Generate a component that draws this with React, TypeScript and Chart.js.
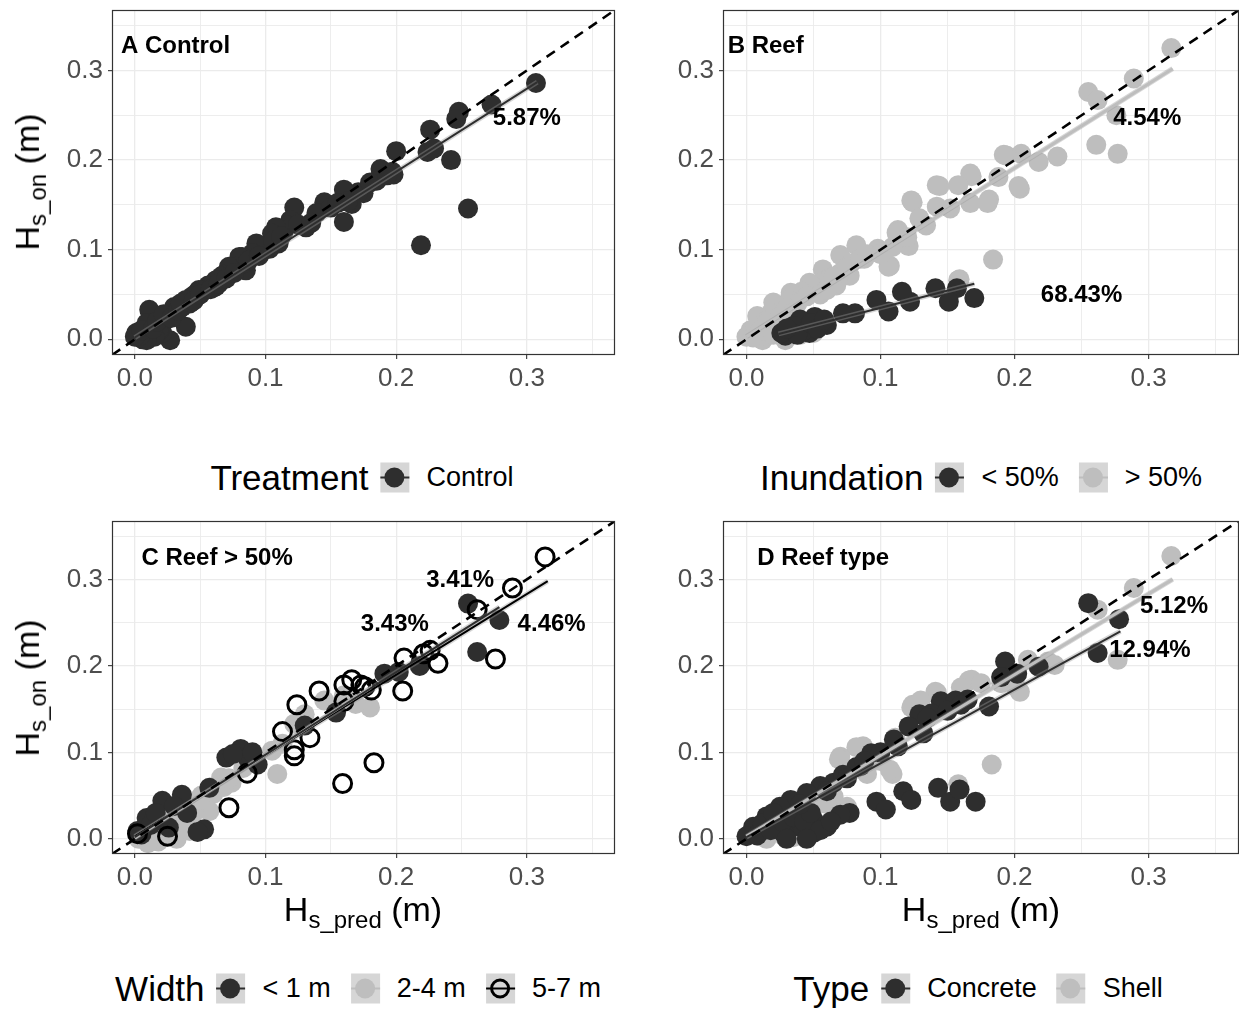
import React, { useEffect, useRef } from "react";
import { Chart, registerables } from "chart.js";

Chart.register(...registerables);

const FONT = '"Liberation Sans", Arial, Helvetica, sans-serif';
const DARK = "#2e2e2e";
const LIGHT = "#bebebe";
const BLACK = "#000000";
const BAND = "rgba(153,153,153,0.4)";
const KEY_BG = "#d6d6d6";

// axis limits and tick values (both axes)
const AXIS_MIN = -0.0175;
const AXIS_MAX = 0.3675;
const TICKS = [0, 0.05, 0.1, 0.15, 0.2, 0.25, 0.3, 0.35];

// ---------- Panel A: Control ----------
const controlX = [0.307, 0.273, 0.248, 0.246, 0.226, 0.224, 0.229, 0.242, 0.255, 0.219, 0.2, 0.197, 0.188, 0.185, 0.198, 0.175, 0.171, 0.166, 0.16, 0.16, 0.163, 0.145, 0.139, 0.131, 0.122, 0.119, 0.114, 0.117, 0.11, 0.108, 0.105, 0.103, 0.1, 0.098, 0.093, 0.09, 0.085, 0.084, 0.082, 0.08, 0.078, 0.072, 0.072, 0.068, 0.066, 0.062, 0.062, 0.056, 0.054, 0.049, 0.047, 0.044, 0.042, 0.039, 0.039, 0.036, 0.03, 0.03, 0.027, 0.024, 0.021, 0.019, 0.018, 0.015, 0.012, 0.011, 0.009, 0.009, 0.006, 0.004, 0.002, 0.001, 0.0, 0.005, 0.014, 0.017, 0.022, 0.028, 0.033, 0.035, 0.045, 0.05, 0.058, 0.064, 0.07, 0.076, 0.087, 0.095, 0.106, 0.112, 0.125, 0.135, 0.15, 0.155, 0.18, 0.193];
const controlY = [0.286, 0.262, 0.254, 0.246, 0.234, 0.209, 0.213, 0.2, 0.146, 0.105, 0.21, 0.187, 0.19, 0.177, 0.184, 0.163, 0.164, 0.151, 0.167, 0.131, 0.154, 0.153, 0.141, 0.125, 0.147, 0.133, 0.121, 0.127, 0.107, 0.125, 0.118, 0.101, 0.104, 0.099, 0.107, 0.096, 0.077, 0.085, 0.092, 0.092, 0.081, 0.077, 0.081, 0.072, 0.07, 0.059, 0.066, 0.06, 0.055, 0.055, 0.051, 0.048, 0.04, 0.044, 0.014, 0.036, 0.036, 0.029, -0.001, 0.022, 0.007, 0.01, 0.01, 0.003, 0.029, 0.033, 0.018, -0.001, 0.0, 0.004, 0.007, 0.007, 0.003, 0.01, 0.012, 0.02, 0.028, 0.024, 0.032, 0.04, 0.043, 0.05, 0.056, 0.062, 0.068, 0.074, 0.088, 0.093, 0.11, 0.115, 0.128, 0.13, 0.147, 0.152, 0.175, 0.183];
const controlFitX = [0.0, 0.308];
const controlFitY = [0.002, 0.287];

// ---------- Panel B: Reef by inundation ----------
const inundLowX = [0.17, 0.157, 0.151, 0.141, 0.122, 0.116, 0.106, 0.097, 0.081, 0.072, 0.06, 0.055, 0.051, 0.047, 0.044, 0.043, 0.04, 0.037, 0.033, 0.032, 0.029, 0.026, 0.035, 0.038, 0.048, 0.053, 0.058, 0.03];
const inundLowY = [0.046, 0.057, 0.042, 0.057, 0.042, 0.053, 0.031, 0.044, 0.029, 0.029, 0.016, 0.02, 0.025, 0.007, 0.016, 0.01, 0.022, 0.012, 0.01, 0.007, 0.004, 0.007, 0.015, 0.005, 0.018, 0.012, 0.022, 0.012];
const inundHighX = [0.317, 0.289, 0.255, 0.262, 0.276, 0.261, 0.277, 0.232, 0.218, 0.205, 0.194, 0.192, 0.188, 0.204, 0.203, 0.181, 0.18, 0.168, 0.167, 0.167, 0.158, 0.144, 0.142, 0.152, 0.142, 0.124, 0.123, 0.134, 0.129, 0.113, 0.112, 0.121, 0.12, 0.109, 0.107, 0.098, 0.106, 0.082, 0.077, 0.07, 0.078, 0.07, 0.067, 0.057, 0.059, 0.05, 0.047, 0.041, 0.033, 0.032, 0.023, 0.02, 0.018, 0.009, 0.008, 0.003, 0.0, 0.012, 0.015, 0.029, 0.03, 0.05, 0.023, 0.184, 0.159, 0.158, 0.014, 0.038, 0.062, 0.088, 0.005, 0.01, 0.015, 0.025, 0.03, 0.035, 0.045, 0.055, 0.06, 0.065, 0.075, 0.085, 0.09, 0.1, 0.04, 0.02];
const inundHighY = [0.325, 0.291, 0.276, 0.267, 0.25, 0.217, 0.207, 0.204, 0.198, 0.207, 0.205, 0.206, 0.181, 0.168, 0.171, 0.156, 0.152, 0.182, 0.152, 0.185, 0.172, 0.171, 0.172, 0.146, 0.148, 0.153, 0.155, 0.127, 0.135, 0.122, 0.119, 0.104, 0.114, 0.103, 0.082, 0.101, 0.081, 0.105, 0.071, 0.094, 0.085, 0.074, 0.06, 0.078, 0.066, 0.059, 0.063, 0.053, 0.052, 0.044, 0.035, 0.041, 0.029, 0.018, 0.026, 0.01, 0.003, -0.001, 0.004, -0.001, 0.004, 0.007, 0.014, 0.089, 0.067, 0.066, 0.02, 0.04, 0.068, 0.09, 0.002, 0.01, 0.018, 0.025, 0.035, 0.03, 0.048, 0.05, 0.055, 0.07, 0.08, 0.09, 0.095, 0.095, 0.005, 0.005];
const inundLowFitX = [0.024, 0.17];
const inundLowFitY = [0.006, 0.062];
const inundHighFitX = [0.0, 0.318];
const inundHighFitY = [0.003, 0.302];

// ---------- Panel C: Reef > 50% by width ----------
const widthSmallX = [0.255, 0.279, 0.262, 0.218, 0.202, 0.191, 0.13, 0.154, 0.081, 0.07, 0.086, 0.094, 0.075, 0.09, 0.053, 0.048, 0.026, 0.021, 0.009, 0.002, 0.036, 0.057, 0.005, 0.012, 0.016, 0.03, 0.04];
const widthSmallY = [0.272, 0.253, 0.216, 0.2, 0.193, 0.191, 0.131, 0.146, 0.104, 0.094, 0.094, 0.086, 0.098, 0.1, 0.011, 0.008, 0.013, 0.044, 0.024, 0.009, 0.051, 0.059, 0.005, 0.016, 0.03, 0.038, 0.03];
const widthMidX = [0.18, 0.169, 0.16, 0.145, 0.13, 0.122, 0.113, 0.109, 0.105, 0.074, 0.06, 0.066, 0.048, 0.039, 0.03, 0.021, 0.012, 0.003, 0.018, 0.032, 0.042, 0.057, 0.008, 0.015, 0.026, 0.051, 0.068, 0.083, 0.02, 0.035, 0.045, 0.05, 0.025, 0.01, 0.06, 0.072];
const widthMidY = [0.152, 0.156, 0.166, 0.16, 0.144, 0.133, 0.11, 0.075, 0.102, 0.065, 0.052, 0.071, 0.04, 0.044, 0.032, 0.021, 0.009, 0.0, -0.003, 0.0, 0.009, 0.032, 0.004, 0.012, 0.026, 0.05, 0.06, 0.082, 0.01, 0.02, 0.03, 0.045, 0.005, -0.005, 0.06, 0.07];
const widthLargeX = [0.314, 0.289, 0.262, 0.276, 0.232, 0.221, 0.226, 0.206, 0.205, 0.183, 0.159, 0.181, 0.176, 0.173, 0.166, 0.16, 0.16, 0.141, 0.124, 0.134, 0.113, 0.122, 0.122, 0.072, 0.086, 0.025, 0.002];
const widthLargeY = [0.326, 0.29, 0.265, 0.208, 0.203, 0.214, 0.218, 0.209, 0.171, 0.088, 0.064, 0.172, 0.176, 0.178, 0.184, 0.178, 0.159, 0.171, 0.155, 0.117, 0.124, 0.103, 0.096, 0.036, 0.076, 0.003, 0.006];
const widthSmallFitX = [0.0, 0.279];
const widthSmallFitY = [0.002, 0.268];
const widthMidFitX = [0.0, 0.181];
const widthMidFitY = [0.001, 0.175];
const widthLargeFitX = [0.0, 0.316];
const widthLargeFitY = [0.003, 0.298];

// ---------- Panel D: Reef type ----------
const concreteX = [0.255, 0.278, 0.262, 0.218, 0.193, 0.19, 0.202, 0.181, 0.165, 0.145, 0.129, 0.121, 0.132, 0.113, 0.093, 0.085, 0.082, 0.065, 0.055, 0.045, 0.033, 0.025, 0.015, 0.005, 0.0, 0.033, 0.022, 0.05, 0.06, 0.05, 0.04, 0.077, 0.097, 0.104, 0.117, 0.123, 0.143, 0.152, 0.159, 0.171, 0.07, 0.01, 0.028, 0.138, 0.156, 0.072, 0.038, 0.008, 0.012, 0.018, 0.027, 0.035, 0.043, 0.048, 0.055, 0.063, 0.03, 0.045, 0.02, 0.04, 0.06, 0.075, 0.088, 0.1, 0.11, 0.135, 0.15, 0.16];
const concreteY = [0.2725, 0.254, 0.215, 0.199, 0.205, 0.187, 0.191, 0.153, 0.161, 0.159, 0.144, 0.13, 0.122, 0.107, 0.099, 0.084, 0.083, 0.065, 0.061, 0.053, 0.045, 0.037, 0.026, 0.014, 0.003, 0.014, 0.022, 0.022, 0.014, 0.007, 0.014, 0.03, 0.043, 0.034, 0.055, 0.045, 0.059, 0.043, 0.057, 0.043, 0.028, 0.008, 0.006, 0.145, 0.16, 0.074, 0.03, 0.004, 0.018, 0.01, 0.02, 0.025, 0.02, 0.03, 0.01, 0.02, 0.0, 0.0, 0.03, 0.04, 0.055, 0.07, 0.09, 0.1, 0.115, 0.14, 0.148, 0.155];
const shellX = [0.317, 0.289, 0.262, 0.277, 0.23, 0.225, 0.21, 0.201, 0.204, 0.183, 0.158, 0.168, 0.166, 0.142, 0.141, 0.124, 0.123, 0.111, 0.109, 0.107, 0.1, 0.087, 0.082, 0.07, 0.069, 0.065, 0.075, 0.04, 0.028, 0.02, 0.01, 0.005, 0.015, 0.035, 0.05, 0.06, 0.09, 0.095, 0.13, 0.16, 0.175, 0.19];
const shellY = [0.327, 0.29, 0.265, 0.207, 0.201, 0.205, 0.207, 0.176, 0.17, 0.086, 0.063, 0.184, 0.183, 0.169, 0.17, 0.155, 0.152, 0.117, 0.075, 0.08, 0.09, 0.107, 0.106, 0.095, 0.092, 0.049, 0.037, 0.045, 0.003, 0.022, 0.003, 0.008, 0.0, 0.002, 0.035, 0.04, 0.075, 0.09, 0.16, 0.175, 0.18, 0.18];
const concreteFitX = [0.0, 0.279];
const concreteFitY = [0.002, 0.24];
const shellFitX = [0.0, 0.318];
const shellFitY = [0.003, 0.3];

// ---------- text labels ----------
const panelTitles = ["A Control", "B Reef", "C Reef > 50%", "D Reef type"];
const percentA = ["5.87%"];
const percentB = ["4.54%", "68.43%"];
const percentC = ["3.41%", "3.43%", "4.46%"];
const percentD = ["5.12%", "12.94%"];

type Series = { xs: number[]; ys: number[]; color: string; open?: boolean };
type Fit = { xs: number[]; ys: number[]; color: string; width?: number };
type Note = { text: string; x: number; y: number; align: CanvasTextAlign; size: number };

const zip = (xs: number[], ys: number[]) => xs.map((x, i) => ({ x, y: ys[i] }));
const isMajor = (v: any) => {
  const n = Number(v);
  return Math.abs(n * 10 - Math.round(n * 10)) < 1e-6;
};

const overlayPlugin = {
  id: "overlay",
  afterDatasetsDraw(chart: any, _args: any, opts: any) {
    const { ctx, chartArea: a, scales } = chart;
    ctx.save();
    ctx.fillStyle = "#000";
    ctx.textBaseline = "middle";
    for (const n of opts.notes as Note[]) {
      ctx.font = `bold ${n.size}px ${FONT}`;
      ctx.textAlign = n.align;
      ctx.fillText(n.text, scales.x.getPixelForValue(n.x), scales.y.getPixelForValue(n.y));
    }
    ctx.strokeStyle = "#333333";
    ctx.lineWidth = 1.2;
    ctx.strokeRect(a.left + 0.5, a.top + 0.5, a.right - a.left - 1, a.bottom - a.top - 1);
    ctx.restore();
  },
};

function axisCfg(isX: boolean, size: number) {
  return {
    type: "linear",
    min: AXIS_MIN,
    max: AXIS_MAX,
    afterBuildTicks: (s: any) => {
      s.ticks = TICKS.map((v) => ({ value: v }));
    },
    afterFit: (s: any) => {
      if (isX) s.height = size;
      else s.width = size;
      s.paddingTop = 0;
      s.paddingBottom = 0;
      s.paddingLeft = 0;
      s.paddingRight = 0;
    },
    ticks: {
      autoSkip: false,
      maxRotation: 0,
      minRotation: 0,
      padding: isX ? 4 : 5,
      color: "#4d4d4d",
      font: { family: FONT, size: 26 },
      callback: (v: any) => (isMajor(v) ? Number(v).toFixed(1) : ""),
    },
    grid: {
      color: "#ebebeb",
      lineWidth: (c: any) => (c.tick && isMajor(c.tick.value) ? 1.3 : 0.9),
      tickColor: (c: any) => (c.tick && isMajor(c.tick.value) ? "#333333" : "rgba(0,0,0,0)"),
      tickWidth: 1.1,
      tickLength: 4,
      drawTicks: true,
    },
    border: { display: false },
  };
}

function Panel(props: {
  left: number; top: number; width: number; height: number;
  padTop: number; padRight: number; yAxisWidth: number; xAxisHeight: number;
  series: Series[]; fits: Fit[]; notes: Note[];
}) {
  const ref = useRef<HTMLCanvasElement | null>(null);
  useEffect(() => {
    if (!ref.current) return;
    const datasets: any[] = [];
    datasets.push({
      data: [{ x: AXIS_MIN, y: AXIS_MIN }, { x: AXIS_MAX, y: AXIS_MAX }],
      showLine: true, borderColor: BLACK, borderWidth: 2.6, borderDash: [10, 7],
      pointRadius: 0, order: 0,
    });
    props.fits.forEach((f) => {
      datasets.push({
        data: zip(f.xs, f.ys), showLine: true, borderColor: f.color, borderWidth: f.width ?? 2,
        pointRadius: 0, order: 1,
      });
      datasets.push({
        data: zip(f.xs, f.ys), showLine: true, borderColor: BAND, borderWidth: 5,
        borderCapStyle: "butt", pointRadius: 0, order: 2,
      });
    });
    props.series.forEach((s, i) => {
      datasets.push({
        data: zip(s.xs, s.ys),
        pointRadius: s.open ? 9 : 10,
        pointBackgroundColor: s.open ? "rgba(0,0,0,0)" : s.color,
        pointBorderColor: s.color,
        pointBorderWidth: s.open ? 3 : 0,
        showLine: false,
        order: 3 + i,
      });
    });
    const chart = new Chart(ref.current, {
      type: "scatter",
      data: { datasets },
      options: {
        animation: false,
        responsive: false,
        maintainAspectRatio: false,
        events: [],
        layout: { autoPadding: false, padding: { top: props.padTop, right: props.padRight, left: 0, bottom: 0 } },
        plugins: {
          legend: { display: false },
          tooltip: { enabled: false },
          overlay: { notes: props.notes },
        } as any,
        scales: {
          x: axisCfg(true, props.xAxisHeight) as any,
          y: axisCfg(false, props.yAxisWidth) as any,
        },
      },
      plugins: [overlayPlugin as any],
    });
    return () => chart.destroy();
  }, []);
  return (
    <canvas
      ref={ref}
      width={props.width}
      height={props.height}
      style={{ position: "absolute", left: props.left, top: props.top, width: props.width, height: props.height }}
    />
  );
}

function Key({ color, open }: { color: string; open?: boolean }) {
  return (
    <span style={{ position: "relative", display: "inline-block", width: 29, height: 30, background: KEY_BG, flex: "0 0 auto" }}>
      <span style={{ position: "absolute", left: 0, right: 0, top: 14, height: 2, background: open ? BLACK : color }} />
      <span
        style={{
          position: "absolute", left: 4, top: 5, width: 20, height: 20, borderRadius: "50%",
          boxSizing: "border-box",
          background: open ? "transparent" : color,
          border: open ? `3px solid ${BLACK}` : "none",
        }}
      />
    </span>
  );
}

function Legend({ cx, cy, title, items }: { cx: number; cy: number; title: string; items: { label: string; color: string; open?: boolean }[] }) {
  return (
    <div
      style={{
        position: "absolute", left: cx, top: cy, transform: "translate(-50%,-50%)",
        display: "flex", alignItems: "center", whiteSpace: "nowrap", fontFamily: FONT, color: "#000",
      }}
    >
      <span style={{ fontSize: 35, marginRight: 12, lineHeight: 1 }}>{title}</span>
      {items.map((it, i) => (
        <React.Fragment key={i}>
          <Key color={it.color} open={it.open} />
          <span style={{ fontSize: 27, marginLeft: 17, marginRight: i < items.length - 1 ? 20 : 0, lineHeight: 1 }}>{it.label}</span>
        </React.Fragment>
      ))}
    </div>
  );
}

function YTitle({ cx, cy, sub }: { cx: number; cy: number; sub: string }) {
  return (
    <div
      style={{
        position: "absolute", left: cx, top: cy, transform: "translate(-50%,-50%) rotate(-90deg)",
        fontSize: 34, fontFamily: FONT, whiteSpace: "nowrap", lineHeight: 1, color: "#000",
      }}
    >
      H<span style={{ fontSize: 24, verticalAlign: "-0.3em" }}>{sub}</span> (m)
    </div>
  );
}

function XTitle({ cx, cy, sub }: { cx: number; cy: number; sub: string }) {
  return (
    <div
      style={{
        position: "absolute", left: cx, top: cy, transform: "translate(-50%,-50%)",
        fontSize: 34, fontFamily: FONT, whiteSpace: "nowrap", lineHeight: 1, color: "#000",
      }}
    >
      H<span style={{ fontSize: 24, verticalAlign: "-0.3em" }}>{sub}</span> (m)
    </div>
  );
}

export default function App() {
  return (
    <div style={{ position: "absolute", left: 0, top: 0, width: 1239, height: 1011, background: "#fff", overflow: "hidden" }}>
      <Panel
        left={0} top={0} width={620} height={400} padTop={10} padRight={5} yAxisWidth={112} xAxisHeight={45}
        series={[{ xs: controlX, ys: controlY, color: DARK }]}
        fits={[{ xs: controlFitX, ys: controlFitY, color: DARK }]}
        notes={[
          { text: panelTitles[0], x: -0.0107, y: 0.327, align: "left", size: 24 },
          { text: percentA[0], x: 0.3, y: 0.247, align: "center", size: 24 },
        ]}
      />
      <Panel
        left={620} top={0} width={619} height={400} padTop={10} padRight={0} yAxisWidth={103} xAxisHeight={45}
        series={[
          { xs: inundLowX, ys: inundLowY, color: DARK },
          { xs: inundHighX, ys: inundHighY, color: LIGHT },
        ]}
        fits={[
          { xs: inundLowFitX, ys: inundLowFitY, color: DARK },
          { xs: inundHighFitX, ys: inundHighFitY, color: LIGHT, width: 3 },
        ]}
        notes={[
          { text: panelTitles[1], x: -0.014, y: 0.327, align: "left", size: 24 },
          { text: percentB[0], x: 0.299, y: 0.247, align: "center", size: 24 },
          { text: percentB[1], x: 0.25, y: 0.049, align: "center", size: 24 },
        ]}
      />
      <Panel
        left={0} top={510} width={620} height={400} padTop={11} padRight={5} yAxisWidth={112} xAxisHeight={56}
        series={[
          { xs: widthLargeX, ys: widthLargeY, color: BLACK, open: true },
          { xs: widthSmallX, ys: widthSmallY, color: DARK },
          { xs: widthMidX, ys: widthMidY, color: LIGHT },
        ]}
        fits={[
          { xs: widthSmallFitX, ys: widthSmallFitY, color: DARK },
          { xs: widthMidFitX, ys: widthMidFitY, color: LIGHT, width: 3 },
          { xs: widthLargeFitX, ys: widthLargeFitY, color: BLACK },
        ]}
        notes={[
          { text: panelTitles[2], x: 0.005, y: 0.324, align: "left", size: 24 },
          { text: percentC[0], x: 0.249, y: 0.299, align: "center", size: 24 },
          { text: percentC[1], x: 0.199, y: 0.248, align: "center", size: 24 },
          { text: percentC[2], x: 0.319, y: 0.248, align: "center", size: 24 },
        ]}
      />
      <Panel
        left={620} top={510} width={619} height={400} padTop={11} padRight={0} yAxisWidth={103} xAxisHeight={56}
        series={[
          { xs: concreteX, ys: concreteY, color: DARK },
          { xs: shellX, ys: shellY, color: LIGHT },
        ]}
        fits={[
          { xs: concreteFitX, ys: concreteFitY, color: DARK },
          { xs: shellFitX, ys: shellFitY, color: LIGHT, width: 3 },
        ]}
        notes={[
          { text: panelTitles[3], x: 0.008, y: 0.324, align: "left", size: 24 },
          { text: percentD[0], x: 0.319, y: 0.269, align: "center", size: 24 },
          { text: percentD[1], x: 0.301, y: 0.218, align: "center", size: 24 },
        ]}
      />
      <YTitle cx={30} cy={182} sub="s_on" />
      <YTitle cx={30} cy={688} sub="s_on" />
      <XTitle cx={363} cy={912} sub="s_pred" />
      <XTitle cx={981} cy={912} sub="s_pred" />
      <Legend cx={362} cy={477} title="Treatment" items={[{ label: "Control", color: DARK }]} />
      <Legend cx={981} cy={477} title="Inundation" items={[{ label: "< 50%", color: DARK }, { label: "> 50%", color: LIGHT }]} />
      <Legend cx={358} cy={988} title="Width" items={[{ label: "< 1 m", color: DARK }, { label: "2-4 m", color: LIGHT }, { label: "5-7 m", color: BLACK, open: true }]} />
      <Legend cx={978} cy={988} title="Type" items={[{ label: "Concrete", color: DARK }, { label: "Shell", color: LIGHT }]} />
    </div>
  );
}
